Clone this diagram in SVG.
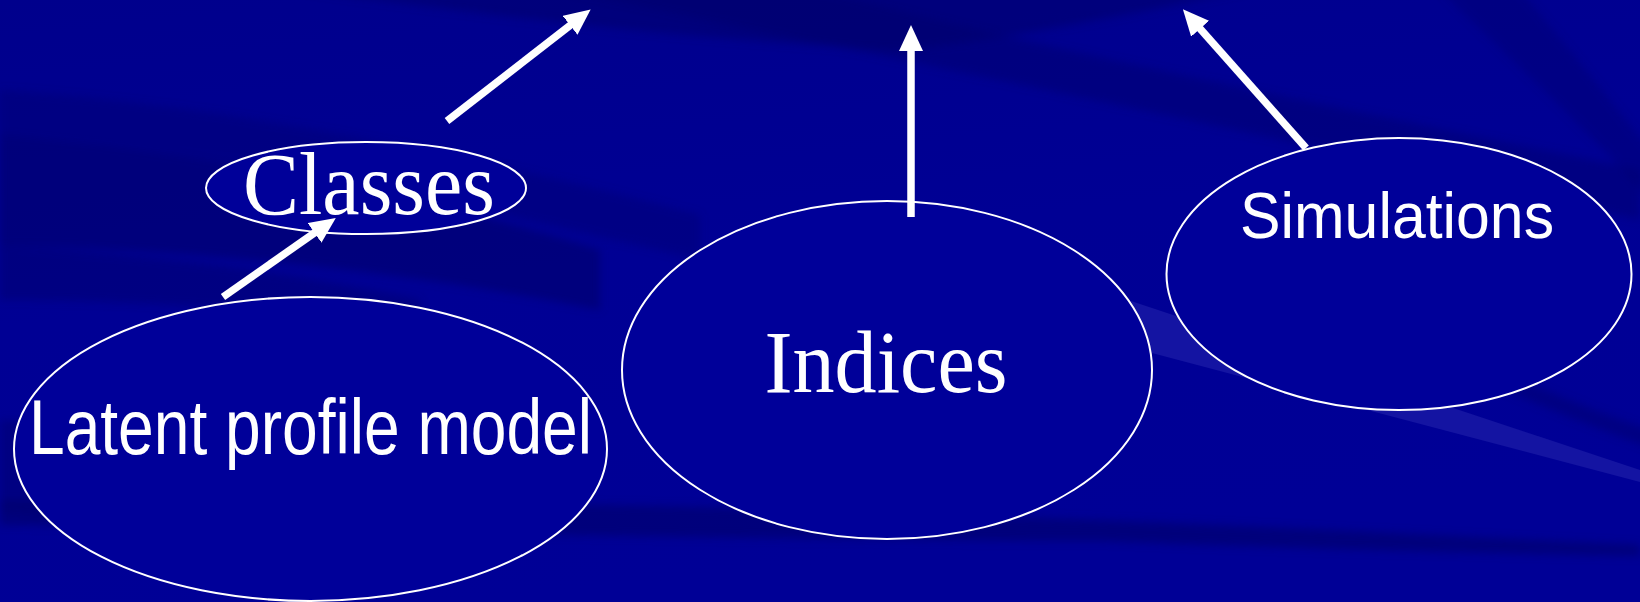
<svg xmlns="http://www.w3.org/2000/svg" width="1640" height="602" viewBox="0 0 1640 602">
<defs>
<style>
.node{fill:#000099;stroke:#ffffff;stroke-width:2}
.serif{font-family:"Liberation Serif","Times New Roman",serif;fill:#ffffff}
.sans{font-family:"Liberation Sans",Arial,sans-serif;fill:#ffffff}
.conn{stroke:#ffffff;stroke-width:7.5;fill:none;marker-end:url(#head)}
.dark{fill:#00006a}
</style>
<marker id="head" markerUnits="userSpaceOnUse" markerWidth="26" markerHeight="24" refX="10" refY="12" orient="auto">
<path d="M0,0 L26,12 L0,24 Z" fill="#ffffff"/>
</marker>
<linearGradient id="bg" x1="0" y1="0" x2="0.3" y2="1">
<stop offset="0" stop-color="#00008c"/>
<stop offset="0.5" stop-color="#000094"/>
<stop offset="1" stop-color="#000096"/>
</linearGradient>
<filter id="soft" x="-10%" y="-10%" width="120%" height="120%">
<feGaussianBlur stdDeviation="4"/>
</filter>
</defs>
<rect x="0" y="0" width="1640" height="602" fill="url(#bg)"/>
<g id="background" filter="url(#soft)">
<path class="dark" opacity="0.5" d="M300,-10 L1250,-10 C1100,20 1000,40 900,50 C700,40 520,20 300,-10 Z"/>
<path class="dark" opacity="0.4" d="M560,-10 L820,-10 C1000,40 1300,100 1640,170 L1640,220 C1300,140 900,60 560,-10 Z"/>
<path class="dark" opacity="0.35" d="M0,90 C220,105 450,150 700,215 L700,260 C450,200 220,150 0,135 Z"/>
<path class="dark" opacity="0.55" d="M0,135 C200,150 400,190 600,250 L600,310 C400,270 200,250 0,245 Z"/>
<path class="dark" opacity="0.4" d="M0,245 C150,255 280,270 420,300 L420,330 C280,310 150,300 0,300 Z"/>
<path class="dark" opacity="0.45" d="M0,420 C50,420 80,425 100,430 L100,520 C60,515 30,512 0,510 Z"/>
<path class="dark" opacity="0.6" d="M0,500 C300,500 600,500 1100,520 C1300,528 1500,538 1640,545 L1640,556 C1400,552 1200,545 1100,541 C700,540 300,528 0,525 Z"/>
<path class="dark" opacity="0.35" d="M1440,-10 L1520,-10 C1570,50 1610,100 1650,150 L1650,200 C1580,120 1500,50 1440,-10 Z"/>
<path class="dark" opacity="0.45" d="M1440,345 C1520,380 1590,410 1650,430 L1650,448 C1580,422 1500,390 1440,360 Z"/>
</g>
<path fill="#1414a2" d="M1131,301 L1640,470 L1640,482 L1152,353 Z"/>
<g id="latent">
<ellipse class="node" cx="310.5" cy="449" rx="296.5" ry="152"/>
<text class="sans" x="310.5" y="454" font-size="78" text-anchor="middle" textLength="563" lengthAdjust="spacingAndGlyphs">Latent profile model</text>
</g>
<g id="classes">
<ellipse class="node" cx="366" cy="188" rx="160" ry="46"/>
<text class="serif" x="369" y="214" font-size="88" text-anchor="middle" textLength="252" lengthAdjust="spacingAndGlyphs">Classes</text>
</g>
<g id="indices">
<ellipse class="node" cx="887" cy="370" rx="265" ry="169"/>
<text class="serif" x="886" y="392" font-size="88" text-anchor="middle" textLength="243" lengthAdjust="spacingAndGlyphs">Indices</text>
</g>
<g id="simulations">
<ellipse class="node" cx="1399" cy="274" rx="232.5" ry="136"/>
<text class="sans" x="1397" y="238" font-size="64" text-anchor="middle" textLength="314" lengthAdjust="spacingAndGlyphs">Simulations</text>
</g>
<g id="connectors">
<line class="conn" x1="447" y1="121" x2="578" y2="19.2"/>
<line class="conn" x1="223" y1="297" x2="322.7" y2="227.1"/>
<line class="conn" x1="911" y1="217" x2="911" y2="41"/>
<line class="conn" x1="1306" y1="148" x2="1193.5" y2="21.2"/>
</g>
</svg>
